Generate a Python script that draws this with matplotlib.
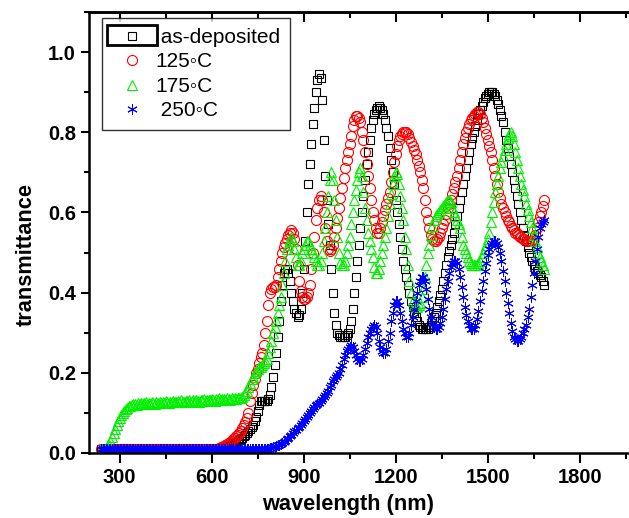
import numpy as np
import matplotlib.pyplot as plt
from matplotlib.patches import Rectangle
from matplotlib.ticker import MultipleLocator, FormatStrFormatter

plt.rcParams['font.family'] = ['Liberation Sans', 'DejaVu Sans']

start = 240   # nm, first sample
step = 5      # nm between samples

# as-deposited: flat from 240 to 615 nm, then one row per 50 nm starting at 620
black = [0.01] * 76 + [
    0.010, 0.011, 0.012, 0.013, 0.014, 0.015, 0.016, 0.018, 0.020, 0.022,
    0.024, 0.026, 0.028, 0.030, 0.032, 0.035, 0.038, 0.042, 0.046, 0.050,
    0.055, 0.060, 0.065, 0.070, 0.080, 0.090, 0.105, 0.120, 0.130, 0.130,
    0.130, 0.130, 0.130, 0.135, 0.145, 0.165, 0.19, 0.22, 0.25, 0.29,
    0.33, 0.38, 0.42, 0.45, 0.46, 0.46, 0.45, 0.43, 0.40, 0.38,
    0.36, 0.35, 0.34, 0.345, 0.36, 0.40, 0.46, 0.53, 0.60, 0.67,
    0.72, 0.77, 0.82, 0.86, 0.90, 0.93, 0.945, 0.935, 0.88, 0.78,
    0.69, 0.63, 0.57, 0.52, 0.46, 0.40, 0.35, 0.32, 0.30, 0.295,
    0.29, 0.29, 0.29, 0.29, 0.295, 0.30, 0.31, 0.33, 0.36, 0.40,
    0.44, 0.48, 0.52, 0.56, 0.60, 0.64, 0.68, 0.72, 0.75, 0.78,
    0.81, 0.83, 0.845, 0.855, 0.86, 0.865, 0.86, 0.855, 0.845, 0.83,
    0.81, 0.79, 0.76, 0.73, 0.70, 0.67, 0.63, 0.60, 0.57, 0.54,
    0.51, 0.48, 0.46, 0.44, 0.42, 0.40, 0.38, 0.365, 0.35, 0.34,
    0.33, 0.32, 0.315, 0.31, 0.31, 0.31, 0.31, 0.31, 0.315, 0.32,
    0.33, 0.34, 0.35, 0.365, 0.38, 0.395, 0.41, 0.43, 0.45, 0.47,
    0.49, 0.505, 0.52, 0.535, 0.55, 0.57, 0.59, 0.61, 0.63, 0.65,
    0.67, 0.69, 0.71, 0.73, 0.75, 0.77, 0.785, 0.80, 0.815, 0.83,
    0.845, 0.855, 0.865, 0.875, 0.885, 0.89, 0.895, 0.90, 0.90, 0.90,
    0.895, 0.89, 0.88, 0.87, 0.855, 0.84, 0.825, 0.80, 0.78, 0.76,
    0.74, 0.72, 0.70, 0.68, 0.66, 0.64, 0.62, 0.60, 0.58, 0.56,
    0.545, 0.53, 0.515, 0.50, 0.49, 0.48, 0.47, 0.46, 0.455, 0.45,
    0.445, 0.44, 0.43, 0.42,
]

# 125 C
red = [0.01] * 76 + [
    0.010, 0.012, 0.014, 0.016, 0.018, 0.020, 0.022, 0.025, 0.028, 0.031,
    0.034, 0.038, 0.042, 0.046, 0.050, 0.056, 0.062, 0.070, 0.078, 0.088,
    0.10, 0.13, 0.15, 0.17, 0.185, 0.20, 0.21, 0.225, 0.24, 0.25,
    0.27, 0.30, 0.33, 0.37, 0.40, 0.41, 0.415, 0.415, 0.42, 0.44,
    0.46, 0.48, 0.50, 0.515, 0.525, 0.535, 0.545, 0.55, 0.555, 0.55,
    0.535, 0.51, 0.47, 0.43, 0.405, 0.39, 0.385, 0.385, 0.39, 0.40,
    0.42, 0.46, 0.50, 0.54, 0.58, 0.61, 0.63, 0.64, 0.63, 0.60,
    0.56, 0.53, 0.51, 0.505, 0.51, 0.52, 0.54, 0.56, 0.585, 0.61,
    0.635, 0.66, 0.685, 0.71, 0.73, 0.75, 0.77, 0.79, 0.815, 0.83,
    0.84, 0.84, 0.835, 0.825, 0.80, 0.78, 0.75, 0.72, 0.69, 0.66,
    0.63, 0.60, 0.58, 0.56, 0.55, 0.55, 0.56, 0.575, 0.59, 0.605,
    0.62, 0.635, 0.65, 0.675, 0.70, 0.725, 0.745, 0.765, 0.78, 0.79,
    0.795, 0.80, 0.80, 0.80, 0.795, 0.785, 0.775, 0.765, 0.755, 0.745,
    0.73, 0.715, 0.70, 0.68, 0.66, 0.63, 0.60, 0.58, 0.56, 0.545,
    0.535, 0.53, 0.53, 0.535, 0.54, 0.55, 0.56, 0.57, 0.58, 0.595,
    0.61, 0.62, 0.63, 0.645, 0.66, 0.675, 0.69, 0.71, 0.73, 0.75,
    0.77, 0.785, 0.80, 0.81, 0.82, 0.83, 0.835, 0.84, 0.845, 0.85,
    0.85, 0.845, 0.835, 0.825, 0.81, 0.795, 0.78, 0.765, 0.75, 0.73,
    0.71, 0.69, 0.67, 0.65, 0.635, 0.62, 0.61, 0.60, 0.59, 0.58,
    0.575, 0.565, 0.56, 0.555, 0.55, 0.55, 0.545, 0.54, 0.54, 0.535,
    0.535, 0.53, 0.53, 0.53, 0.53, 0.53, 0.535, 0.545, 0.56, 0.575,
    0.59, 0.60, 0.615, 0.63,
]

# 175 C, one row per 50 nm from 240
green = [
    0.010, 0.010, 0.010, 0.012, 0.015, 0.020, 0.030, 0.040, 0.050, 0.060,
    0.070, 0.080, 0.088, 0.095, 0.100, 0.105, 0.110, 0.113, 0.116, 0.118,
    0.120, 0.121, 0.123, 0.120, 0.124, 0.122, 0.125, 0.121, 0.124, 0.126,
    0.122, 0.125, 0.123, 0.127, 0.124, 0.122, 0.126, 0.125, 0.128, 0.124,
    0.127, 0.125, 0.129, 0.126, 0.124, 0.128, 0.127, 0.130, 0.126, 0.128,
    0.129, 0.127, 0.131, 0.128, 0.126, 0.130, 0.129, 0.132, 0.128, 0.130,
    0.131, 0.129, 0.133, 0.130, 0.128, 0.132, 0.131, 0.134, 0.130, 0.132,
    0.133, 0.131, 0.135, 0.132, 0.130, 0.134, 0.133, 0.136, 0.132, 0.134,
    0.135, 0.133, 0.137, 0.134, 0.132, 0.136, 0.135, 0.138, 0.134, 0.137,
    0.138, 0.136, 0.140, 0.145, 0.150, 0.155, 0.165, 0.175, 0.185, 0.190,
    0.20, 0.205, 0.21, 0.215, 0.215, 0.22, 0.225, 0.23, 0.235, 0.25,
    0.265, 0.28, 0.30, 0.315, 0.33, 0.35, 0.37, 0.39, 0.42, 0.45,
    0.48, 0.51, 0.52, 0.53, 0.54, 0.53, 0.51, 0.49, 0.47, 0.47,
    0.48, 0.50, 0.51, 0.52, 0.53, 0.53, 0.52, 0.51, 0.50, 0.49,
    0.48, 0.47, 0.47, 0.48, 0.50, 0.53, 0.56, 0.60, 0.64, 0.68,
    0.70, 0.68, 0.63, 0.58, 0.54, 0.50, 0.475, 0.47, 0.47, 0.48,
    0.50, 0.52, 0.54, 0.57, 0.60, 0.63, 0.655, 0.68, 0.70, 0.71,
    0.69, 0.65, 0.61, 0.58, 0.55, 0.53, 0.51, 0.49, 0.465, 0.45,
    0.45, 0.46, 0.48, 0.50, 0.52, 0.54, 0.56, 0.59, 0.62, 0.645,
    0.67, 0.69, 0.70, 0.695, 0.67, 0.64, 0.61, 0.58, 0.54, 0.51,
    0.47, 0.43, 0.40, 0.38, 0.37, 0.365, 0.365, 0.37, 0.375, 0.39,
    0.41, 0.44, 0.47, 0.50, 0.52, 0.545, 0.565, 0.58, 0.59, 0.595,
    0.60, 0.605, 0.61, 0.615, 0.62, 0.625, 0.63, 0.63, 0.625, 0.61,
    0.60, 0.59, 0.58, 0.57, 0.56, 0.54, 0.52, 0.51, 0.50, 0.49,
    0.48, 0.475, 0.47, 0.47, 0.47, 0.47, 0.475, 0.48, 0.49, 0.50,
    0.51, 0.52, 0.535, 0.55, 0.575, 0.60, 0.625, 0.65, 0.67, 0.69,
    0.71, 0.725, 0.74, 0.755, 0.77, 0.785, 0.795, 0.80, 0.79, 0.77,
    0.75, 0.73, 0.71, 0.69, 0.67, 0.655, 0.64, 0.62, 0.605, 0.59,
    0.575, 0.56, 0.545, 0.53, 0.515, 0.50, 0.49, 0.48, 0.47, 0.46,
]

# 250 C: flat from 240 to 780 nm, rows from 785
blue = [0.01] * 109 + [
    0.011, 0.012, 0.013, 0.014, 0.015, 0.017, 0.019, 0.021, 0.023, 0.025,
    0.028, 0.031, 0.034, 0.038, 0.042, 0.046, 0.050, 0.054, 0.058, 0.062,
    0.066, 0.070, 0.075, 0.080, 0.085, 0.090, 0.095, 0.10, 0.105, 0.11,
    0.115, 0.12, 0.122, 0.125, 0.13, 0.135, 0.14, 0.145, 0.15, 0.155,
    0.165, 0.17, 0.18, 0.185, 0.19, 0.195, 0.20, 0.21, 0.22, 0.235,
    0.245, 0.255, 0.26, 0.265, 0.27, 0.265, 0.255, 0.245, 0.235, 0.23,
    0.23, 0.235, 0.245, 0.26, 0.275, 0.29, 0.30, 0.31, 0.315, 0.32,
    0.315, 0.30, 0.28, 0.265, 0.255, 0.25, 0.25, 0.26, 0.28, 0.30,
    0.33, 0.35, 0.37, 0.38, 0.38, 0.37, 0.35, 0.33, 0.31, 0.30,
    0.29, 0.29, 0.30, 0.32, 0.34, 0.36, 0.38, 0.40, 0.42, 0.43,
    0.44, 0.44, 0.43, 0.41, 0.385, 0.36, 0.34, 0.325, 0.315, 0.31,
    0.31, 0.315, 0.325, 0.34, 0.36, 0.385, 0.41, 0.43, 0.45, 0.465,
    0.475, 0.48, 0.48, 0.475, 0.46, 0.44, 0.415, 0.39, 0.365, 0.345,
    0.33, 0.32, 0.31, 0.31, 0.31, 0.32, 0.335, 0.355, 0.38, 0.405,
    0.43, 0.455, 0.475, 0.495, 0.51, 0.52, 0.525, 0.53, 0.53, 0.525,
    0.515, 0.50, 0.48, 0.455, 0.43, 0.40, 0.375, 0.35, 0.325, 0.305,
    0.29, 0.285, 0.28, 0.28, 0.285, 0.29, 0.30, 0.31, 0.32, 0.34,
    0.36, 0.39, 0.42, 0.45, 0.48, 0.51, 0.54, 0.56, 0.57, 0.575,
    0.58,
]

labels = [' as-deposited', '125\u25e6C', '175\u25e6C', ' 250\u25e6C']


def wavelengths(values):
    return start + step * np.arange(len(values))


fig = plt.figure(figsize=(6.29, 5.18), dpi=100)
W, H = 629, 518
ax = fig.add_axes([89 / W, 65 / H, 552 / W, 441 / H])

ax.plot(wavelengths(black), black, ls='none', marker='s', ms=5.8,
        mfc='none', mec='black', mew=0.8, label=labels[0])
ax.plot(wavelengths(red), red, ls='none', marker='o', ms=7.2,
        mfc='none', mec='red', mew=0.8, label=labels[1])
ax.plot(wavelengths(green), green, ls='none', marker='^', ms=7.6,
        mfc='none', mec='#00f000', mew=0.8, label=labels[2])
ax.plot(wavelengths(blue), blue, ls='none', marker=(6, 2, 0), ms=7.5,
        mfc='none', mec='blue', mew=0.7, label=labels[3])

ax.set_xlim(200, 2000)
ax.set_ylim(0, 1.1)
ax.xaxis.set_major_locator(MultipleLocator(300))
ax.xaxis.set_minor_locator(MultipleLocator(150))
ax.yaxis.set_major_locator(MultipleLocator(0.2))
ax.yaxis.set_minor_locator(MultipleLocator(0.1))
ax.yaxis.set_major_formatter(FormatStrFormatter('%.1f'))

for side in ['left', 'bottom', 'top']:
    ax.spines[side].set_linewidth(1.8)
ax.spines['right'].set_visible(False)

ax.tick_params(axis='x', which='major', direction='out', length=7, width=1.5,
               pad=4, labelsize=14.5)
ax.tick_params(axis='x', which='minor', direction='out', length=4.5, width=1.5)
ax.tick_params(axis='y', which='major', direction='out', length=5.5, width=1.5,
               pad=4, labelsize=14.5)
ax.tick_params(axis='y', which='minor', direction='out', length=3.5, width=1.5)
for lab in ax.get_xticklabels() + ax.get_yticklabels():
    lab.set_fontweight('bold')

top = ax.secondary_xaxis('top')
top.xaxis.set_major_locator(MultipleLocator(300))
top.xaxis.set_minor_locator(MultipleLocator(150))
top.tick_params(which='major', direction='in', length=7, width=1.5,
                labeltop=False)
top.tick_params(which='minor', direction='in', length=4.5, width=1.5)
top.spines['top'].set_linewidth(1.8)

ax.set_xlabel('wavelength (nm)', fontsize=15.7, fontweight='bold')
ax.set_ylabel('transmittance', fontsize=15.7, fontweight='bold')
ax.xaxis.set_label_coords(0.469, -0.093)
ax.yaxis.set_label_coords(-0.095, 0.451)

leg = ax.legend(loc='upper left', bbox_to_anchor=(0.023, 0.986),
                borderaxespad=0, fontsize=15, numpoints=1, frameon=True,
                fancybox=False, borderpad=0.47, handlelength=1.94,
                handletextpad=0.15, labelspacing=0.26)
leg.get_frame().set_edgecolor('black')
leg.get_frame().set_linewidth(1.0)

# thick selection box around the first legend symbol, as in the source image
fig.patches.append(Rectangle((107 / W, 1 - 45 / H), 50 / W, 20 / H,
                             transform=fig.transFigure, fill=False,
                             edgecolor='black', linewidth=2.0, zorder=10))

fig.savefig('out.png', dpi=100)
